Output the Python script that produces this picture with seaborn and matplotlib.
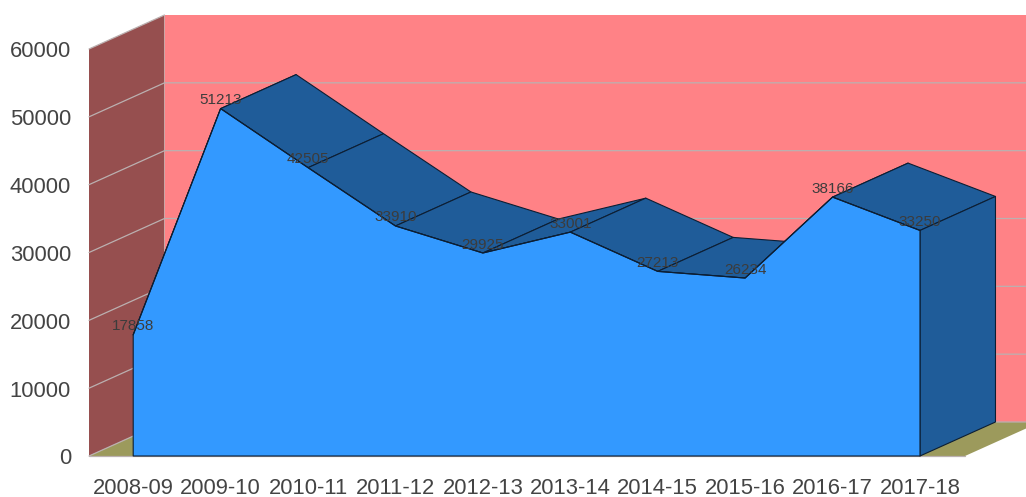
import matplotlib
matplotlib.use("Agg")
import matplotlib.pyplot as plt
import matplotlib.transforms as mtrans
import pandas as pd
import seaborn as sns
from matplotlib.patches import Polygon

categories = ["2008-09", "2009-10", "2010-11", "2011-12", "2012-13",
              "2013-14", "2014-15", "2015-16", "2016-17", "2017-18"]
values = [17858, 51213, 42505, 33910, 29925, 33001, 27213, 26234, 38166, 33250]
y_ticks = [0, 10000, 20000, 30000, 40000, 50000, 60000]

W, H = 1026, 497
L, R, T, B = 89.0, 965.0, 49.0, 456.0      # front plane in pixels
FIRST_PX, STEP_PX = 133.2, 87.42           # first category centre and spacing
DEPTH_PX = (75.5, 34.0)                    # depth of the 3D box in pixels

FRONT = "#3399FF"
DARK = "#1F5C99"
BACK = "#FF8286"
SIDE = "#964F4F"
FLOOR = "#9C9A5C"
GRID = "#BBB0B0"
EDGE = "#0C1E33"
TEXT = "#444444"

sns.set_theme(style="white", rc={"font.family": ["Liberation Sans", "DejaVu Sans"]})
fig = plt.figure(figsize=(W / 100, H / 100), dpi=100)
ax = fig.add_axes([L / W, 1 - B / H, (R - L) / W, (B - T) / H])
x0 = (L - FIRST_PX) / STEP_PX
x1 = (R - FIRST_PX) / STEP_PX
ax.set_xlim(x0, x1)
ax.set_ylim(0, y_ticks[-1])
ax.patch.set_visible(False)
sns.despine(ax=ax, left=True, bottom=True, top=True, right=True)

y_per_px = y_ticks[-1] / (B - T)
dx = DEPTH_PX[0] / STEP_PX
dy = DEPTH_PX[1] * y_per_px
ymax = y_ticks[-1]
xs = list(range(len(categories)))


def poly(points, fc, ec="none", lw=0.0, z=1):
    ax.add_patch(Polygon(points, closed=True, facecolor=fc, edgecolor=ec,
                         linewidth=lw, zorder=z, clip_on=False, joinstyle="round"))


# walls and floor
poly([(x0 + dx, dy), (x1 + dx, dy), (x1 + dx, ymax + dy), (x0 + dx, ymax + dy)], BACK, z=1)
poly([(x0, 0), (x0 + dx, dy), (x0 + dx, ymax + dy), (x0, ymax)], SIDE, z=1)
poly([(x0, 0), (x1, 0), (x1 + dx, dy), (x0 + dx, dy)], FLOOR, z=1)

# grid on walls (the top line runs over the side wall only)
for t in y_ticks:
    if t == ymax:
        ax.plot([x0, x0 + dx], [t, t + dy], color=GRID, lw=0.9, zorder=2, clip_on=False)
    else:
        ax.plot([x0, x0 + dx, x1 + dx], [t, t + dy, t + dy], color=GRID, lw=0.9,
                zorder=2, clip_on=False, solid_joinstyle="miter")
ax.plot([x0, x1], [0, 0], color=GRID, lw=0.9, zorder=2, clip_on=False)

# top faces of the area and right side
for i in range(len(values) - 1):
    poly([(xs[i], values[i]), (xs[i + 1], values[i + 1]),
          (xs[i + 1] + dx, values[i + 1] + dy), (xs[i] + dx, values[i] + dy)],
         DARK, EDGE, 0.8, z=3)
poly([(xs[-1], 0), (xs[-1] + dx, dy), (xs[-1] + dx, values[-1] + dy), (xs[-1], values[-1])],
     DARK, EDGE, 0.8, z=3)

# front face
front = [(xs[0], 0)] + list(zip(xs, values)) + [(xs[-1], 0)]
poly(front, FRONT, EDGE, 0.8, z=4)

df = pd.DataFrame({"category": xs, "value": values})
sns.lineplot(data=df, x="category", y="value", ax=ax, color=EDGE, lw=0.8,
             zorder=5, clip_on=False, errorbar=None)

# data labels
for x, v in zip(xs, values):
    ax.annotate(str(v), (x, v), xytext=(0, 8.5 * 0.72), textcoords="offset points",
                ha="center", va="center", fontsize=11.0, color="#3C3C3C", zorder=6)

ax.set_xlabel("")
ax.set_ylabel("")
ax.set_xticks(xs)
ax.set_xticklabels(categories)
ax.set_yticks(y_ticks)
ax.set_yticklabels([str(t) for t in y_ticks])
ax.tick_params(axis="x", length=0, pad=16, labelsize=15.8, labelcolor=TEXT)
ax.tick_params(axis="y", length=0, pad=13, labelsize=15.8, labelcolor=TEXT)
shift = mtrans.ScaledTranslation(0, -0.4 / 100, fig.dpi_scale_trans)
for lab in ax.get_yticklabels():
    lab.set_transform(lab.get_transform() + shift)

fig.savefig("out.png", dpi=100, facecolor="white")
